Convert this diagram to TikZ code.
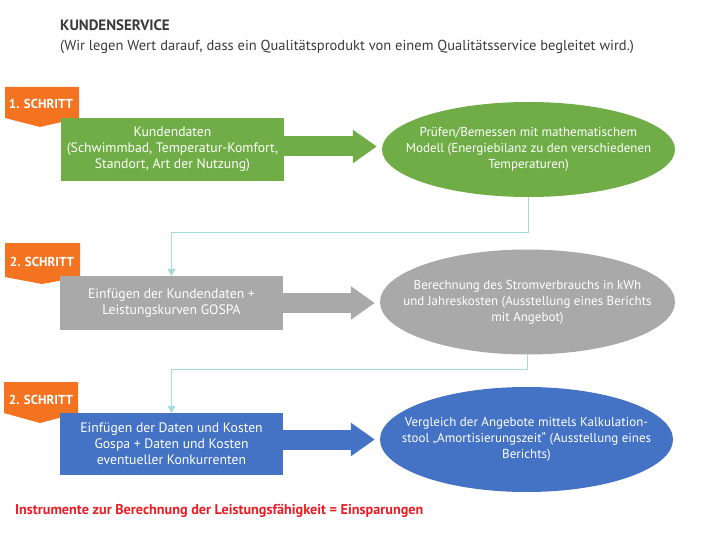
\documentclass[tikz,border=0pt]{standalone}
\usepackage{fontspec}
\setmainfont{PT Sans}
\usetikzlibrary{shapes.geometric,arrows.meta}
\definecolor{orng}{HTML}{F37321}
\definecolor{grn}{HTML}{70AD47}
\definecolor{gry}{HTML}{A9A9A9}
\definecolor{blu}{HTML}{4472C4}
\definecolor{tealc}{HTML}{A3DCDA}
\definecolor{txt}{HTML}{3A3A3A}
\definecolor{redt}{HTML}{EC1C24}
\begin{document}
\begin{tikzpicture}[x=1pt,y=-1pt,
  every node/.style={font=\fontsize{13}{16}\selectfont},
  box/.style={rectangle, minimum width=223pt, minimum height=63pt, inner sep=0pt, text=white, align=center, font=\fontsize{13.7}{16}\selectfont},
  oval/.style={ellipse, minimum width=293pt, minimum height=95pt, inner sep=0pt},
  ovaltext/.style={text=white, align=center},
  badge/.style={fill=orng},
  badgetext/.style={text=white, font=\bfseries\fontsize{13}{15}\selectfont},
  blockarrow/.style={line width=20pt, -{Triangle[length=24pt,width=32pt]}, shorten >=5pt},
  conn/.style={draw=tealc, line width=1pt, -{Triangle[length=7pt,width=8pt]}}]
\useasboundingbox[fill=white] (0,0) rectangle (720,540);

% title
\node[anchor=base west, text=txt, font=\bfseries\fontsize{15}{17}\selectfont, inner xsep=0pt] (title) at (60,31) {KUNDENSERVICE};
\node[anchor=base west, text=txt, font=\fontsize{14.5}{17}\selectfont, inner xsep=0pt] (sub) at (60,51) {(Wir legen Wert darauf, dass ein Qualitätsprodukt von einem Qualitätsservice begleitet wird.)};

% badges
\fill[badge] (5,87) -- (79,87) -- (79,118) -- (40,127) -- (5,118) -- cycle;
\node[badgetext] (b1) at (41,104) {1. SCHRITT};
\fill[badge] (5,243) -- (80,243) -- (80,277) -- (42,284) -- (5,277) -- cycle;
\node[badgetext] (b2) at (42,262) {2. SCHRITT};
\fill[badge] (4,382) -- (78,382) -- (78,413) -- (40,423) -- (4,413) -- cycle;
\node[badgetext] (b3) at (41,400) {2. SCHRITT};

% row 1
\node[box, fill=grn] (r1) at (172.5,149.5) {Kundendaten\\(Schwimmbad, Temperatur-Komfort,\\Standort, Art der Nutzung)};
\node[oval, fill=grn] (e1) at (528.5,149.5) {};
\node[ovaltext] (e1t) at (e1) {Prüfen/Bemessen mit mathematischem\\Modell (Energiebilanz zu den verschiedenen\\Temperaturen)};
\draw[blockarrow, draw=grn] ([yshift=3pt]r1.east) -- ([yshift=3pt]r1.east -| e1.west);

% row 2
\node[box, fill=gry, minimum height=54pt] (r2) at (171.5,303) {Einfügen der Kundendaten +\\Leistungskurven GOSPA};
\node[oval, fill=gry, minimum height=105pt, minimum width=295pt] (e2) at (527.5,302) {};
\node[ovaltext] (e2t) at (e2) {Berechnung des Stromverbrauchs in kWh\\und Jahreskosten (Ausstellung eines Berichts\\mit Angebot)};
\draw[blockarrow, draw=gry] (r2.east) -- (r2.east -| e2.west);

% row 3
\node[box, fill=blu, minimum height=62pt] (r3) at (171.5,444) {Einfügen der Daten und Kosten\\Gospa + Daten und Kosten\\eventueller Konkurrenten};
\node[oval, fill=blu, minimum height=105pt] (e3) at (526.5,439.5) {};
\node[ovaltext] (e3t) at (e3) {Vergleich der Angebote mittels Kalkulation-\\stool „Amortisierungszeit“ (Ausstellung eines\\Berichts)};
\draw[blockarrow, draw=blu] (r3.east |- e3.west) -- (e3.west);

% connectors
\draw[conn] (e1.south) -- ++(0,35) -| (r2.north);
\draw[conn] (e2.south) -- ++(0,15) -| (r3.north);

% footer
\node[anchor=base west, text=redt, font=\bfseries\fontsize{14.2}{16}\selectfont, inner xsep=0pt] (foot) at (15,514) {Instrumente zur Berechnung der Leistungsfähigkeit = Einsparungen};
\end{tikzpicture}
\end{document}
